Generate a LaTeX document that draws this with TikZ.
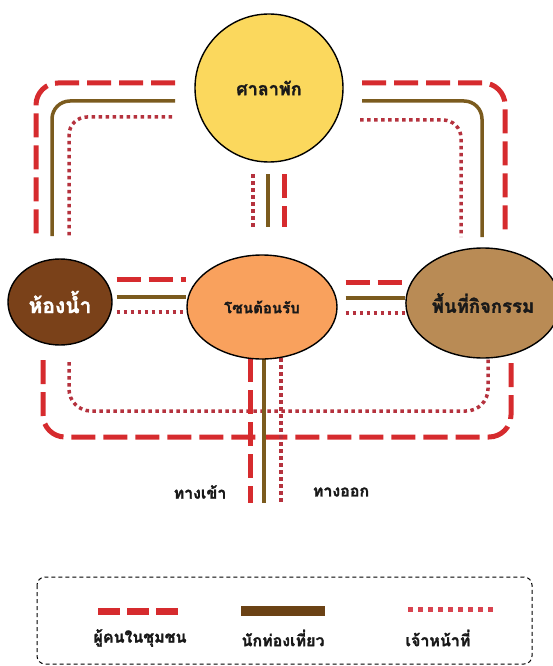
\documentclass[tikz,border=0pt]{standalone}
\usepackage{fontspec}
\newfontfamily\thaifont[Script=Thai,BoldFeatures={FakeBold=1.6}]{Loma}
\usetikzlibrary{shapes.geometric,backgrounds}

\definecolor{salaYellow}{HTML}{FBD85D}
\definecolor{recepOrange}{HTML}{F9A15D}
\definecolor{bathBrown}{HTML}{7A4119}
\definecolor{actTan}{HTML}{B98B55}
\definecolor{lineRed}{HTML}{D62B2E}
\definecolor{lineBrown}{HTML}{7B5B1E}
\definecolor{lineDot}{HTML}{B5323E}
\definecolor{legendBrown}{HTML}{6B4215}
\definecolor{legendDot}{HTML}{D9434F}

\begin{document}
\begin{tikzpicture}[x=1pt,y=-1pt,
  zone/.style={draw=black,line width=1.4pt,font=\thaifont\bfseries,text=black!90},
  community/.style={draw=lineRed,line width=5pt,dash pattern=on 24pt off 8pt},
  tourist/.style={draw=lineBrown,line width=3.5pt},
  staff/.style={draw=lineDot,line width=3.5pt,dash pattern=on 3.5pt off 3.5pt},
  lbl/.style={font=\thaifont\bfseries\fontsize{16}{19}\selectfont,text=black!90}]
\useasboundingbox (0,0) rectangle (552,666);

% zones
\node[zone,circle,fill=salaYellow,minimum size=148pt,font=\thaifont\bfseries\fontsize{18}{21}\selectfont] (sala) at (269,88) {ศาลาพัก};
\node[zone,ellipse,fill=bathBrown,minimum width=104pt,minimum height=86pt,text=white,font=\thaifont\bfseries\fontsize{21}{25}\selectfont] (bath) at (60,302) {ห้องน้ำ};
\node[zone,ellipse,fill=recepOrange,minimum width=150pt,minimum height=104pt,font=\thaifont\bfseries\fontsize{15}{18}\selectfont] (recep) at (262,307) {โซนต้อนรับ};
\node[zone,ellipse,fill=actTan,minimum width=134pt,minimum height=110pt,font=\thaifont\bfseries\fontsize{18.5}{22}\selectfont] (act) at (483,303) {พื้นที่กิจกรรม};

\begin{scope}[on background layer]
% upper loop
\draw[community,rounded corners=22pt] (175,83) -- (36,83) -- (36,236);
\draw[tourist,rounded corners=18pt] (175,101) -- (52,101) -- (52,236);
\draw[staff,rounded corners=18pt] (172,117) -- (69,117) -- (69,236);
\draw[community,rounded corners=22pt] (362,83) -- (505,83) -- (505,237);
\draw[tourist,rounded corners=18pt] (362,101) -- (482,101) -- (482,237);
\draw[staff,rounded corners=18pt] (360,120) -- (461,120) -- (461,237);
% sala - reception
\draw[staff] (253,174) -- (253,227);
\draw[tourist] (268,174) -- (268,227);
\draw[community] (284,174) -- (284,227);
% side links
\draw[community] ([xshift=4pt]bath.east |- 0,279) -- (recep.west |- 0,279);
\draw[tourist] ([xshift=4pt]bath.east |- 0,297) -- (recep.west |- 0,297);
\draw[staff] ([xshift=4pt]bath.east |- 0,312) -- (recep.west |- 0,312);
\draw[community] ([xshift=8pt]recep.east |- 0,282) -- (act.west |- 0,282);
\draw[tourist] ([xshift=8pt]recep.east |- 0,298) -- (act.west |- 0,298);
\draw[staff] ([xshift=8pt]recep.east |- 0,313) -- (act.west |- 0,313);
% lower loop
\draw[community,rounded corners=22pt] (43,360) -- (43,437) -- (511,437) -- (511,357);
\draw[staff,rounded corners=22pt] (69,362) -- (69,411) -- (488,411) -- (488,357);
% entrance and exit
\draw[community] (250,358) -- (250,503);
\draw[tourist] (264,358) -- (264,503);
\draw[staff] (281,358) -- (281,503);
\end{scope}

\node[lbl] (gateIn) at (200,492) {ทางเข้า};
\node[lbl] (gateOut) at (341,492) {ทางออก};

% legend
\draw[line width=1pt,dash pattern=on 4pt off 3pt,rounded corners=8pt] (37,577) rectangle (532,664);
\draw[lineRed,line width=7pt,dash pattern=on 22pt off 7pt] (98,611) -- (178,611);
\draw[legendBrown,line width=10pt] (241,611) -- (325,611);
\draw[legendDot,line width=5pt,dash pattern=on 5pt off 5pt] (408,609) -- (493,609);
\node[lbl] (lgCommunity) at (140,638) {ผู้คนในชุมชน};
\node[lbl] (lgTourist) at (283,638) {นักท่องเที่ยว};
\node[lbl] (lgStaff) at (438,638) {เจ้าหน้าที่};
\end{tikzpicture}
\end{document}
